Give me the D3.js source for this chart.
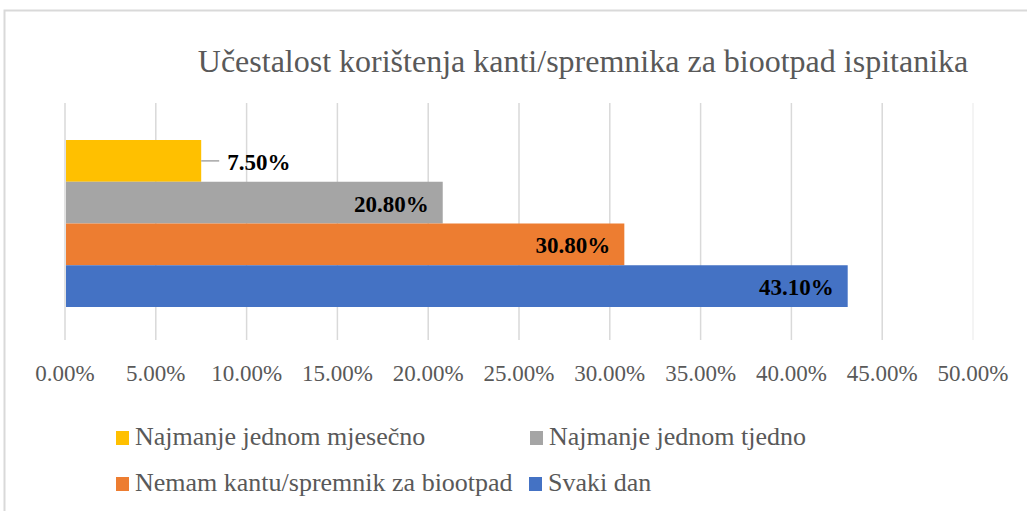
<!DOCTYPE html>
<html>
<head>
<meta charset="utf-8">
<script src="https://cdn.jsdelivr.net/npm/d3@7"></script>
<style>
  body { margin: 0; background: #fff; }
  text { font-family: "Liberation Serif", "Times New Roman", serif; }
</style>
</head>
<body>
<div id="chart"></div>
<script>
// data
let titleText = "Učestalost korištenja kanti/spremnika za biootpad ispitanika";
let seriesNames = ["Najmanje jednom mjesečno", "Najmanje jednom tjedno", "Nemam kantu/spremnik za biootpad", "Svaki dan"];
let seriesValues = [7.5, 20.8, 30.8, 43.1];
let seriesColors = ["#FFC000", "#A5A5A5", "#ED7D31", "#4472C4"];
let xTicks = [0, 5, 10, 15, 20, 25, 30, 35, 40, 45, 50];

let width = 1027,
    height = 511,
    textGray = "#595959";

let svg = d3.select("#chart").append("svg")
    .attr("width", width)
    .attr("height", height);

// chart border
svg.append("path")
    .attr("d", "M4.5," + height + " V10.5 H" + width)
    .attr("fill", "none")
    .attr("stroke", "#d9d9d9")
    .attr("stroke-width", 2);

svg.append("text")
    .attr("x", 583)
    .attr("y", 72)
    .attr("text-anchor", "middle")
    .attr("font-size", 32)
    .attr("fill", textGray)
    .text(titleText);

let x = d3.scaleLinear().domain([0, 50]).range([65, 973]);
let y = d3.scaleBand().domain(seriesNames).range([140, 307]).padding(0);

// gridlines
svg.append("g").selectAll("line")
    .data(xTicks)
    .enter()
    .append("line")
    .attr("x1", d => x(d)).attr("x2", d => x(d))
    .attr("y1", 103).attr("y2", 340)
    .attr("stroke", d => d === 50 ? "#f0f0f0" : "#d9d9d9")
    .attr("stroke-width", 1.5);

// tick labels
svg.append("g").selectAll("text")
    .data(xTicks)
    .enter()
    .append("text")
    .attr("x", d => x(d))
    .attr("y", 381)
    .attr("text-anchor", "middle")
    .attr("font-size", 23)
    .attr("fill", textGray)
    .text(d => d.toFixed(2) + "%");

// bars
svg.append("g").selectAll("rect")
    .data(seriesNames)
    .enter()
    .append("rect")
    .attr("x", x(0) + 1)
    .attr("y", d => y(d))
    .attr("width", (d, i) => x(seriesValues[i]) - x(0) - 1)
    .attr("height", y.bandwidth())
    .attr("fill", (d, i) => seriesColors[i]);

// data labels
let labels = svg.append("g");
seriesNames.forEach(function (name, i) {
    let v = seriesValues[i],
        cy = y(name) + y.bandwidth() / 2,
        outside = v < 10;
    if (outside) {
        labels.append("line")
            .attr("x1", x(v)).attr("x2", x(v) + 18)
            .attr("y1", cy).attr("y2", cy)
            .attr("stroke", "#a6a6a6")
            .attr("stroke-width", 1.5);
    }
    labels.append("text")
        .attr("x", outside ? x(v) + 26 : x(v) - 14)
        .attr("y", cy + 9)
        .attr("text-anchor", outside ? "start" : "end")
        .attr("font-size", 23)
        .attr("font-weight", "bold")
        .attr("fill", "#000")
        .text(v.toFixed(2) + "%");
});

// legend
let legendPos = [[116, 445], [530, 445], [116, 491], [529, 491]];
let legend = svg.append("g").selectAll("g")
    .data(seriesNames)
    .enter()
    .append("g")
    .attr("transform", (d, i) => "translate(" + legendPos[i][0] + "," + legendPos[i][1] + ")");

legend.append("rect")
    .attr("x", 0).attr("y", -14)
    .attr("width", 13).attr("height", 14)
    .attr("fill", (d, i) => seriesColors[i]);

legend.append("text")
    .attr("x", 19)
    .attr("y", 0)
    .attr("font-size", 26)
    .attr("fill", textGray)
    .text(d => d);
</script>
</body>
</html>
